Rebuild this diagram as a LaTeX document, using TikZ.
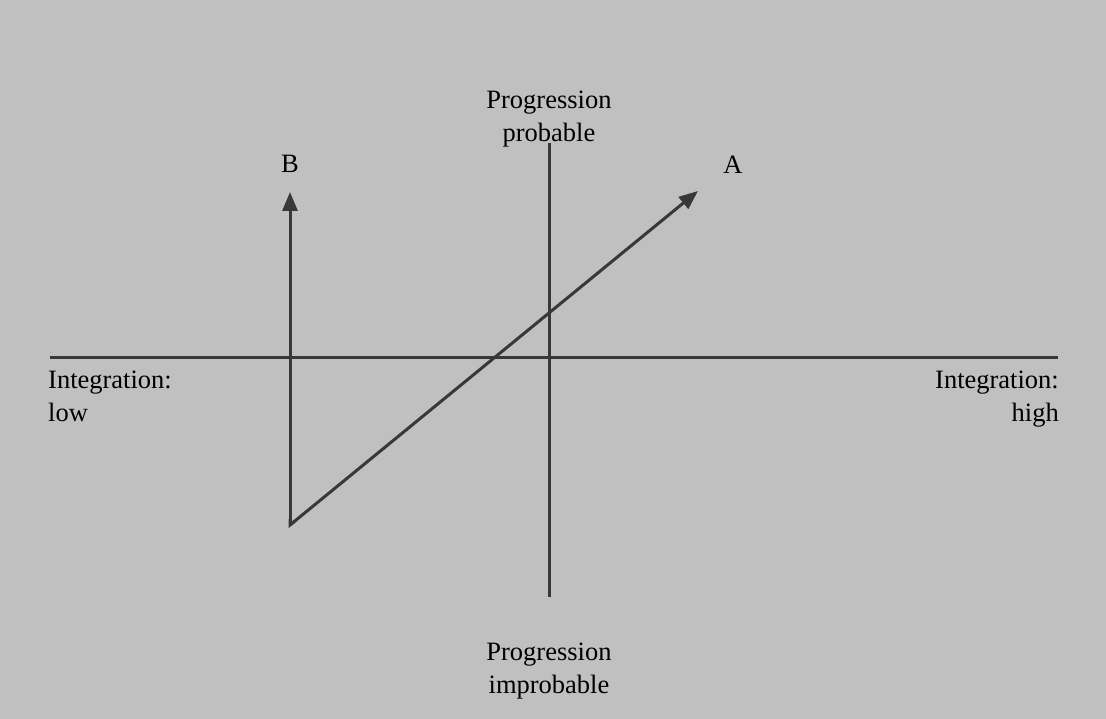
\documentclass[tikz,border=0pt]{standalone}
\usepackage{fontspec}
\setmainfont{LiberationSerif}[Extension=.ttf,UprightFont=*-Regular,BoldFont=*-Bold]
\usetikzlibrary{arrows.meta,calc}
\definecolor{bg}{HTML}{C0C0C0}
\definecolor{ln}{HTML}{383838}
\begin{document}
\begin{tikzpicture}[x=1pt,y=-1pt,
  axis/.style={draw=ln,line width=3pt},
  arr/.style={draw=ln,line width=3pt,-{Triangle[length=19pt,width=15pt]}},
  lbl/.style={font=\rmfamily\fontsize{26.5}{33}\selectfont,text=black,inner sep=0pt}]
\fill[bg] (0,0) rectangle (1106,719);
\useasboundingbox (0,0) rectangle (1106,719);
\coordinate (hL) at (50,358);
\coordinate (hR) at (1058,358);
\coordinate (vT) at (549,143);
\coordinate (vB) at (549,597);
\coordinate (corner) at (290,525);
\coordinate (bTip) at (290,192);
\coordinate (aTip) at (698,191);
\draw[axis] (hL) -- (hR);
\draw[axis] (vT) -- (vB);
\draw[arr] (corner) -- (bTip);
\draw[arr] (corner) -- (aTip);
\draw[draw=ln,line width=3pt,line join=miter] ($(corner)!6pt!(bTip)$) -- (corner) -- ($(corner)!6pt!(aTip)$);
\node[lbl,align=center] (pp) at (549,119) {Progression\\probable};
\node[lbl,align=center] (pi) at (549,671) {Progression\\improbable};
\node[lbl,align=left,anchor=north west] (il) at (48,371) {Integration:\\low};
\node[lbl,align=right,anchor=north east] (ih) at (1059,371) {Integration:\\high};
\node[lbl] (B) at (290,164) {B};
\node[lbl] (A) at (733,165) {A};
\end{tikzpicture}
\end{document}
